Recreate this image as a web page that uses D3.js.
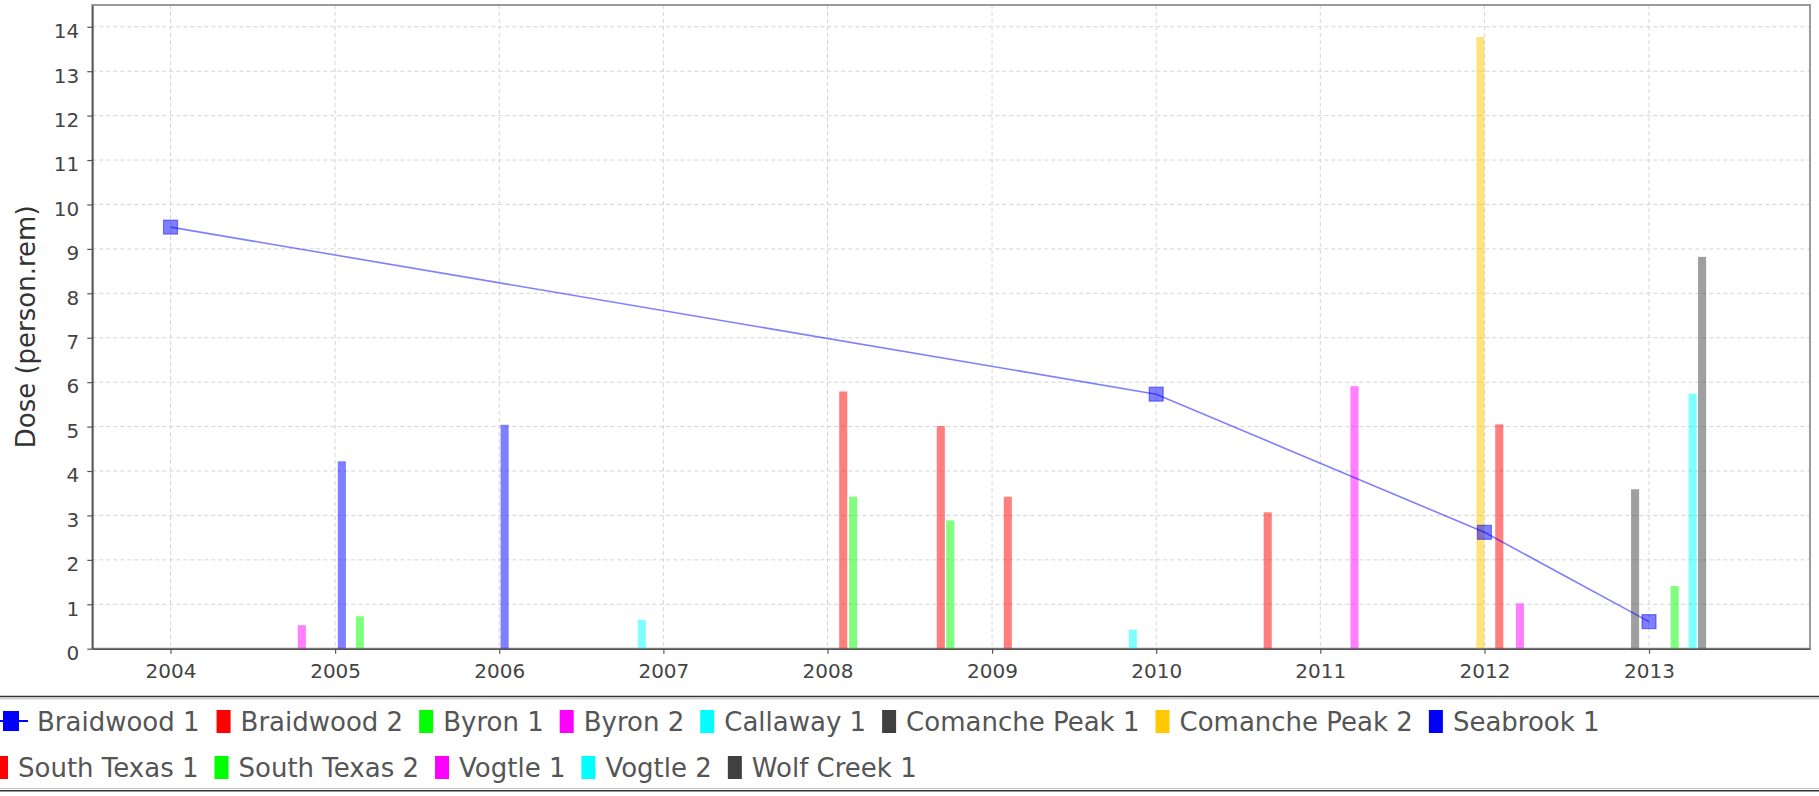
<!DOCTYPE html>
<html>
<head>
<meta charset="utf-8">
<script src="https://cdnjs.cloudflare.com/ajax/libs/d3/7.8.5/d3.min.js"></script>
<style>
body{margin:0;background:#fff;overflow:hidden;}
svg{display:block;font-family:"DejaVu Sans",sans-serif;}
</style>
</head>
<body>
<div id="chart"></div>
<script>
// legend order
var seriesNames = ["Braidwood 1","Braidwood 2","Byron 1","Byron 2","Callaway 1","Comanche Peak 1",
    "Comanche Peak 2","Seabrook 1","South Texas 1","South Texas 2","Vogtle 1","Vogtle 2","Wolf Creek 1"];
var seriesColors = ["#0000ff","#ff0000","#00ff00","#ff00ff","#00ffff","#404040",
    "#ffc800","#0000ff","#ff0000","#00ff00","#ff00ff","#00ffff","#404040"];
var seriesTypes = ["line","bar","bar","bar","bar","bar","bar","bar","bar","bar","bar","bar","bar"];

// dose (person.rem) by date
var braidwood1    = [["2004-01-01",9.49],["2010-01-01",5.73],["2012-01-01",2.62],["2013-01-01",0.61]];
var braidwood2    = [["2008-09-09",5.01],["2010-09-06",3.07]];
var byron1        = [["2005-02-25",0.73],["2008-09-30",2.89]];
var byron2        = [["2004-10-19",0.53],["2012-03-20",1.02]];
var callaway1     = [["2006-11-14",0.65],["2009-11-10",0.43]];
var comanchePeak1 = [["2012-12-01",3.59]];
var comanchePeak2 = [["2011-12-23",13.77]];
var seabrook1     = [["2005-01-16",4.22],["2006-01-13",5.04]];
var southTexas1   = [["2008-02-05",5.79],["2009-02-05",3.42],["2012-02-03",5.05]];
var southTexas2   = [["2008-02-27",3.42],["2013-02-27",1.41]];
var vogtle1       = [["2011-03-18",5.91]];
var vogtle2       = [["2013-04-08",5.74]];
var wolfCreek1    = [["2013-04-29",8.82]];

var seriesData = [braidwood1,braidwood2,byron1,byron2,callaway1,comanchePeak1,
    comanchePeak2,seabrook1,southTexas1,southTexas2,vogtle1,vogtle2,wolfCreek1];

var yTicks = [0,1,2,3,4,5,6,7,8,9,10,11,12,13,14];
var xDomain = ["2003-07-11","2013-12-25"];
var yMax = 14.49;
var yLabel = "Dose (person.rem)";

var W = 1819, H = 796;
var plot = {left: 92.3, top: 5, right: 1810, bottom: 648.7};
var BAR_HALF_DAYS = 9;

var parse = d3.utcParse("%Y-%m-%d");

var svg = d3.select("#chart").append("svg")
    .attr("width",W)
    .attr("height",H);

svg.append("rect")
    .attr("width",W)
    .attr("height",H)
    .style("fill","white");

var x = d3.scaleUtc()
    .domain(xDomain.map(parse))
    .range([plot.left,plot.right]);

var y = d3.scaleLinear()
    .domain([0,yMax])
    .range([plot.bottom,plot.top]);

var xTicks = x.ticks(d3.utcYear.every(1));

// grid
var grid = svg.append("g").attr("class","grid");
grid.selectAll(".hgrid")
    .data(yTicks.filter(function(d){ return d > 0; }))
    .enter().append("line")
    .attr("x1",plot.left)
    .attr("x2",plot.right)
    .attr("y1",function(d){ return y(d); })
    .attr("y2",function(d){ return y(d); })
    .style("stroke","#d4d4d4")
    .style("stroke-width",1)
    .style("stroke-dasharray","4,3");
grid.selectAll(".vgrid")
    .data(xTicks)
    .enter().append("line")
    .attr("x1",function(d){ return x(d); })
    .attr("x2",function(d){ return x(d); })
    .attr("y1",plot.top)
    .attr("y2",plot.bottom)
    .style("stroke","#d4d4d4")
    .style("stroke-width",1)
    .style("stroke-dasharray","4,3");

// plot outline
svg.append("rect")
    .attr("x",plot.left)
    .attr("y",plot.top)
    .attr("width",plot.right-plot.left)
    .attr("height",plot.bottom-plot.top)
    .style("fill","none")
    .style("stroke","#9a9a9a")
    .style("stroke-width",2);

// bars
seriesData.forEach(function(data,s){
    if(seriesTypes[s] != "bar") return;
    svg.append("g")
        .attr("class","bars")
        .selectAll("rect")
        .data(data)
        .enter().append("rect")
        .attr("x",function(d){ return x(d3.utcDay.offset(parse(d[0]),-BAR_HALF_DAYS)); })
        .attr("width",function(d){
            var t = parse(d[0]);
            return x(d3.utcDay.offset(t,BAR_HALF_DAYS)) - x(d3.utcDay.offset(t,-BAR_HALF_DAYS));
        })
        .attr("y",function(d){ return y(d[1]); })
        .attr("height",function(d){ return y(0) - y(d[1]); })
        .style("fill",seriesColors[s])
        .style("fill-opacity",0.5);
});

// axes
var yAxis = svg.append("g")
    .attr("transform","translate("+plot.left+",0)")
    .call(d3.axisLeft(y).tickValues(yTicks).tickSize(5).tickPadding(8).tickSizeOuter(0));
var xAxis = svg.append("g")
    .attr("transform","translate(0,"+plot.bottom+")")
    .call(d3.axisBottom(x).tickValues(xTicks).tickFormat(d3.utcFormat("%Y"))
        .tickSize(5).tickPadding(10).tickSizeOuter(0));

[yAxis,xAxis].forEach(function(a){
    a.select(".domain").style("stroke","#555").style("stroke-width",1.6);
    a.selectAll(".tick line").style("stroke","#555").style("stroke-width",1.2);
    a.selectAll(".tick text")
        .style("font-family","'DejaVu Sans',sans-serif")
        .style("font-size","20px")
        .style("fill","#444");
});
yAxis.selectAll(".tick text").attr("dy","0.54em");

svg.append("text")
    .attr("transform","rotate(-90)")
    .attr("x",-(plot.top+plot.bottom)/2)
    .attr("y",35)
    .attr("text-anchor","middle")
    .style("font-size","26px")
    .style("fill","#333")
    .text(yLabel);

// line series drawn on top
seriesData.forEach(function(data,s){
    if(seriesTypes[s] != "line") return;
    var line = d3.line()
        .x(function(d){ return x(parse(d[0])); })
        .y(function(d){ return y(d[1]); });
    svg.append("path")
        .datum(data)
        .attr("d",line)
        .style("fill","none")
        .style("stroke",seriesColors[s])
        .style("stroke-opacity",0.5)
        .style("stroke-width",1.6);
    svg.append("g").selectAll("rect")
        .data(data)
        .enter().append("rect")
        .attr("x",function(d){ return x(parse(d[0])) - 7; })
        .attr("y",function(d){ return y(d[1]) - 7; })
        .attr("width",14)
        .attr("height",14)
        .style("fill",seriesColors[s])
        .style("fill-opacity",0.5)
        .style("stroke",seriesColors[s])
        .style("stroke-opacity",0.45)
        .style("stroke-width",1.2);
});

// legend frame
svg.append("line").attr("x1",0).attr("x2",W).attr("y1",696.5).attr("y2",696.5)
    .style("stroke","#333").style("stroke-width",1.6);
svg.append("line").attr("x1",0).attr("x2",W).attr("y1",698.8).attr("y2",698.8)
    .style("stroke","#bbb").style("stroke-width",1);
svg.append("line").attr("x1",0).attr("x2",W).attr("y1",788.6).attr("y2",788.6)
    .style("stroke","#bbb").style("stroke-width",1);
svg.append("line").attr("x1",0).attr("x2",W).attr("y1",790.8).attr("y2",790.8)
    .style("stroke","#333").style("stroke-width",1.6);

// legend items, flowed in rows
var legend = svg.append("g").attr("class","legend");
var rowBase = [731,777];
var row = 0, cx = -6;
seriesNames.forEach(function(name,s){
    var g = legend.append("g");
    var swW = seriesTypes[s] == "line" ? 34 : 14;
    var label = g.append("text")
        .attr("x",swW+(seriesTypes[s] == "line" ? 9 : 10))
        .attr("y",0)
        .style("font-size","26px")
        .style("fill","#555")
        .text(name);
    var itemW = swW + 10 + label.node().getComputedTextLength();
    if(cx + itemW > W && cx > 0){
        row++;
        cx = -6;
    }
    g.attr("transform","translate("+[cx,rowBase[row]]+")");
    if(seriesTypes[s] == "line"){
        g.append("line")
            .attr("x1",0).attr("x2",swW)
            .attr("y1",-10).attr("y2",-10)
            .style("stroke",seriesColors[s])
            .style("stroke-width",2);
        g.append("rect")
            .attr("x",9).attr("y",-20)
            .attr("width",16).attr("height",20)
            .style("fill",seriesColors[s]);
    }
    else{
        g.append("rect")
            .attr("x",0).attr("y",-21)
            .attr("width",swW).attr("height",23)
            .style("fill",seriesColors[s]);
    }
    cx += itemW + 16;
});
</script>
</body>
</html>
